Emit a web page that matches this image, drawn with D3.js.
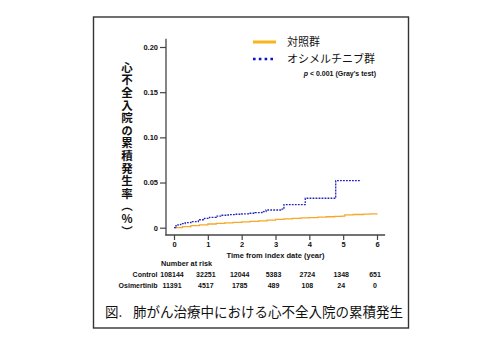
<!DOCTYPE html>
<html><head><meta charset="utf-8">
<script src="https://cdn.jsdelivr.net/npm/d3@7"></script>
<style>
html,body{margin:0;padding:0;background:#fff;}
svg{display:block;}
.num{font-family:"Liberation Sans",Arial,sans-serif;font-weight:bold;font-size:7.5px;fill:#111;}
.risk{font-family:"Liberation Sans",Arial,sans-serif;font-weight:bold;font-size:7px;fill:#111;}
</style></head>
<body>
<svg id="c" width="500" height="341"></svg>
<script>
// ---- data ----
const seriesNames = ["対照群", "オシメルチニブ群"];
const controlYears = [0, 0.25, 0.5, 0.75, 1, 1.25, 1.5, 1.75, 2, 2.25, 2.5, 2.75, 3, 3.25, 3.5, 3.75, 4, 4.25, 4.5, 4.75, 4.95, 5.05, 5.3, 5.6, 5.8, 6];
const controlValues = [0, 0.0012, 0.0022, 0.0032, 0.0041, 0.0047, 0.0053, 0.0058, 0.0064, 0.0070, 0.0076, 0.0084, 0.0092, 0.0098, 0.0103, 0.0108, 0.0112, 0.0117, 0.0121, 0.0125, 0.0129, 0.0142, 0.0146, 0.0150, 0.0154, 0.0158];
const osiYears = [0, 0.05, 0.12, 0.2, 0.33, 0.5, 0.72, 0.9, 1.05, 1.25, 1.4, 1.6, 1.8, 2.0, 2.2, 2.4, 2.6, 2.72, 3.15, 3.25, 3.88, 4.78, 5.53];
const osiValues = [0, 0.002, 0.0035, 0.0045, 0.0056, 0.0068, 0.0088, 0.0103, 0.0115, 0.0128, 0.0138, 0.0144, 0.0149, 0.0154, 0.0160, 0.0167, 0.0178, 0.0196, 0.0205, 0.0256, 0.0326, 0.0520, 0.0520];
const yTicks = [0, 0.05, 0.10, 0.15, 0.20];
const yTickLabels = ["0", "0.05", "0.10", "0.15", "0.20"];
const xTicks = [0, 1, 2, 3, 4, 5, 6];
const riskGroups = ["Control", "Osimertinib"];
const riskControl = [108144, 32251, 12044, 5383, 2724, 1348, 651];
const riskOsi = [11391, 4517, 1785, 489, 108, 24, 0];
const yTitle = "心不全入院の累積発生率（%）";
const xTitle = "Time from index date (year)";
const pText = "< 0.001 (Gray's test)";
const captionHead = "図.";
const captionBody = "肺がん治療中における心不全入院の累積発生";

const svg = d3.select("#c");
const cjk = '"Noto Sans CJK JP","Noto Sans CJK SC",sans-serif';
const orange = "#f6a828", blue = "#2424c0";

// frame
svg.append("rect").attr("x", 93.5).attr("y", 17).attr("width", 315).attr("height", 311)
  .attr("fill", "none").attr("stroke", "#333").attr("stroke-width", 1.4);

const x = d3.scaleLinear().domain([0, 6]).range([174, 377]);
const y = d3.scaleLinear().domain([0, 0.2]).range([227.7, 47]);
const axisColor = "#444";

// axis lines
svg.append("line").attr("x1", 166).attr("x2", 166).attr("y1", y(0.209)).attr("y2", 235.6)
  .attr("stroke", axisColor).attr("stroke-width", 1.3);
svg.append("line").attr("x1", 165.4).attr("x2", x(6.24)).attr("y1", 235).attr("y2", 235)
  .attr("stroke", axisColor).attr("stroke-width", 1.3);

const gy = svg.append("g").attr("transform", "translate(166,0)")
  .call(d3.axisLeft(y).tickValues(yTicks).tickFormat((d, i) => yTickLabels[i]).tickSize(6).tickPadding(2));
gy.select(".domain").remove();
gy.selectAll("line").attr("stroke", axisColor).attr("stroke-width", 1.2);
gy.selectAll("text").attr("class", "num").attr("font-family", null).attr("font-size", null).attr("fill", null);

const gx = svg.append("g").attr("transform", "translate(0,235)")
  .call(d3.axisBottom(x).tickValues(xTicks).tickFormat(d3.format("d")).tickSize(5).tickPadding(2));
gx.select(".domain").remove();
gx.selectAll("line").attr("stroke", axisColor).attr("stroke-width", 1.2);
gx.selectAll("text").attr("class", "num").attr("font-family", null).attr("font-size", null).attr("fill", null);

// curves
const line = d3.line().x(d => x(d[0])).y(d => y(d[1])).curve(d3.curveStepAfter);
svg.append("path").datum(d3.zip(controlYears, controlValues)).attr("d", line)
  .attr("fill", "none").attr("stroke", orange).attr("stroke-width", 1.3);
svg.append("path").datum(d3.zip(osiYears, osiValues)).attr("d", line)
  .attr("fill", "none").attr("stroke", blue).attr("stroke-width", 1.3).attr("stroke-dasharray", "1.8,1.2");

// legend
svg.append("line").attr("x1", 253).attr("x2", 276).attr("y1", 42).attr("y2", 42)
  .attr("stroke", "#f8b418").attr("stroke-width", 3);
svg.append("line").attr("x1", 253).attr("x2", 276).attr("y1", 59).attr("y2", 59)
  .attr("stroke", "#1010c8").attr("stroke-width", 2.6).attr("stroke-dasharray", "2.6,3.2");
svg.append("text").attr("x", 287).attr("y", 46).attr("font-family", cjk).attr("font-size", 11)
  .attr("fill", "#111").text(seriesNames[0]);
svg.append("text").attr("x", 287).attr("y", 63).attr("font-family", cjk).attr("font-size", 11)
  .attr("fill", "#111").text(seriesNames[1]);
const pt = svg.append("text").attr("x", 376).attr("y", 76).attr("text-anchor", "end")
  .attr("font-family", '"Liberation Sans",Arial,sans-serif').attr("font-weight", "bold").attr("font-size", 7).attr("fill", "#111");
pt.append("tspan").attr("font-style", "italic").text("p");
pt.append("tspan").text(" " + pText);

// y title (vertical writing)
svg.append("text").attr("x", 127).attr("y", 61.7)
  .attr("font-family", cjk).attr("font-weight", "bold").attr("font-size", 11.5).attr("fill", "#111")
  .style("writing-mode", "vertical-rl").style("text-orientation", "upright")
  .style("letter-spacing", "1.1px")
  .text(yTitle);

// x title
svg.append("text").attr("class", "num").attr("x", x(3)).attr("y", 258).attr("text-anchor", "middle").text(xTitle);

// number at risk
svg.append("text").attr("class", "risk").attr("x", 161).attr("y", 266).style("font-size", "7.3px").text("Number at risk");
const rows = [riskControl, riskOsi];
rows.forEach((vals, r) => {
  const yy = 277 + r * 11;
  svg.append("text").attr("class", "risk").attr("x", 157.5).attr("y", yy)
    .attr("text-anchor", "end").text(riskGroups[r]);
  svg.selectAll(null).data(vals).enter().append("text").attr("class", "risk")
    .attr("text-anchor", "middle")
    .attr("x", (d, i) => x(xTicks[i]) - 2).attr("y", yy).text(d => d);
});

// caption
const cap = svg.append("text").attr("y", 317).attr("font-family", cjk).attr("font-size", 13.5).attr("fill", "#111");
cap.append("tspan").attr("x", 105).text(captionHead);
cap.append("tspan").attr("x", 133).text(captionBody);
</script>
</body></html>
